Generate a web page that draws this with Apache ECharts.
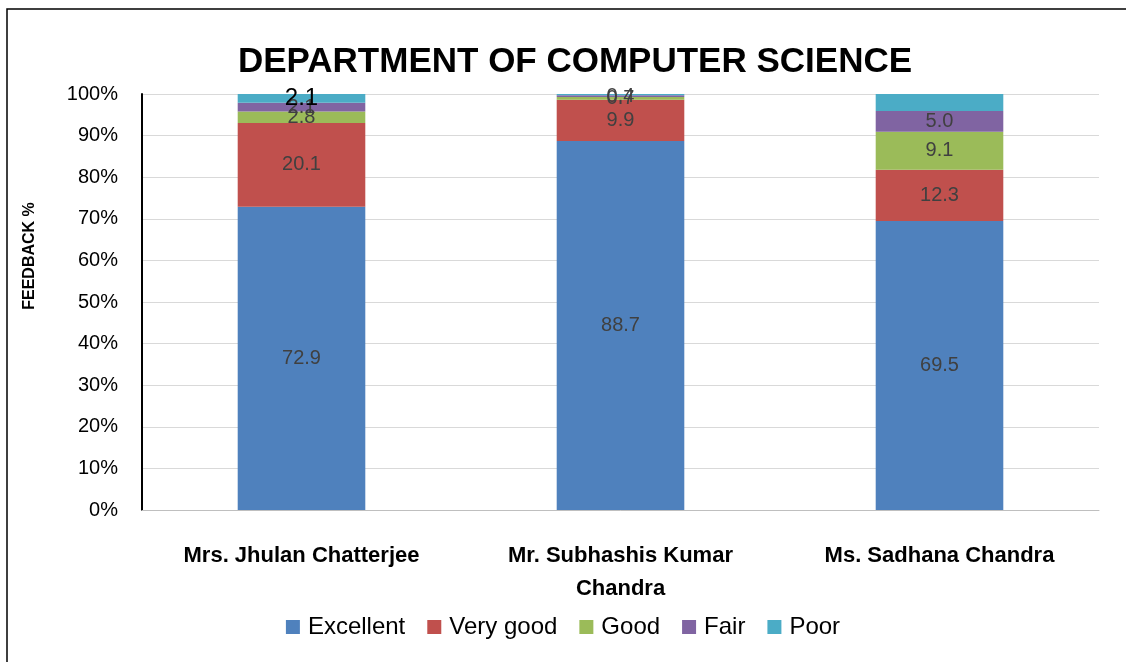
<!DOCTYPE html>
<html><head><meta charset="utf-8">
<script src="https://cdn.jsdelivr.net/npm/echarts@6/dist/echarts.min.js"></script>
<style>html,body{margin:0;padding:0;background:#fff}#c{width:1126px;height:662px}</style>
</head><body><div id="c"></div>
<script>
const categories = ['Mrs. Jhulan Chatterjee', 'Mr. Subhashis Kumar\nChandra', 'Ms. Sadhana Chandra'];
const excellent = [72.9, 88.7, 69.5];
const veryGood = [20.1, 9.9, 12.3];
const good = [2.8, 0.7, 9.1];
const fair = [2.1, 0.4, 5.0];
const poor = [2.1, 0.3, 4.1];
const poorLabelShown = [true, false, false];
const yTicks = [0, 10, 20, 30, 40, 50, 60, 70, 80, 90, 100];

const chart = echarts.init(document.getElementById('c'));
const font = "'Liberation Sans', Arial, sans-serif";
const lbl = {show: true, position: 'inside', color: '#404040', fontSize: 20, fontFamily: font, formatter: p => p.value.toFixed(1)};
function s(name, data, color, label) {
  return {name, type: 'bar', stack: 't', data, barWidth: '40%', itemStyle: {color}, label: label || lbl};
}
chart.setOption({
  animation: false,
  textStyle: {fontFamily: font},
  title: {text: 'DEPARTMENT OF COMPUTER SCIENCE', left: 570, top: 40, textAlign: 'center',
    textStyle: {fontSize: 35, fontWeight: 'bold', color: '#000', fontFamily: font}},
  grid: {left: 142, right: 27, top: 94, bottom: 152},
  legend: {bottom: 18, left: 'center', itemWidth: 14, itemHeight: 14, itemGap: 22, icon: 'rect',
    textStyle: {fontSize: 24, color: '#000', fontFamily: font, padding: [0, 0, 0, 3]}},
  xAxis: {type: 'category', data: categories,
    axisLine: {lineStyle: {color: '#bfbfbf'}}, axisTick: {show: false},
    axisLabel: {interval: 0, hideOverlap: false, fontSize: 22, fontWeight: 'bold', color: '#000', margin: 29, lineHeight: 33, fontFamily: font}},
  yAxis: {type: 'value', min: 0, max: 100, interval: 10,
    axisLine: {show: true, lineStyle: {color: '#000', width: 2}}, axisTick: {show: false},
    splitLine: {lineStyle: {color: '#d9d9d9'}},
    axisLabel: {fontSize: 20, color: '#000', margin: 24, fontFamily: font,
      formatter: v => yTicks.includes(v) ? v + '%' : ''}},
  graphic: [
    {type: 'rect', shape: {x: 7, y: 9, width: 1130, height: 670}, style: {fill: 'none', stroke: '#000', lineWidth: 1.5}},
    {type: 'text', x: 30, y: 256, rotation: Math.PI / 2, style: {text: 'FEEDBACK %', fontSize: 16, fontWeight: 'bold',
      fill: '#000', align: 'center', verticalAlign: 'middle', fontFamily: font}}
  ],
  series: [
    s('Excellent', excellent, '#4F81BD'),
    s('Very good', veryGood, '#C0504D'),
    s('Good', good, '#9BBB59'),
    s('Fair', fair, '#8064A2'),
    s('Poor', poor.map((v, i) => ({value: v, label: {show: poorLabelShown[i]}})), '#4BACC6',
      Object.assign({}, lbl, {color: '#000', fontSize: 24, position: 'inside'}))
  ]
});
</script></body></html>
